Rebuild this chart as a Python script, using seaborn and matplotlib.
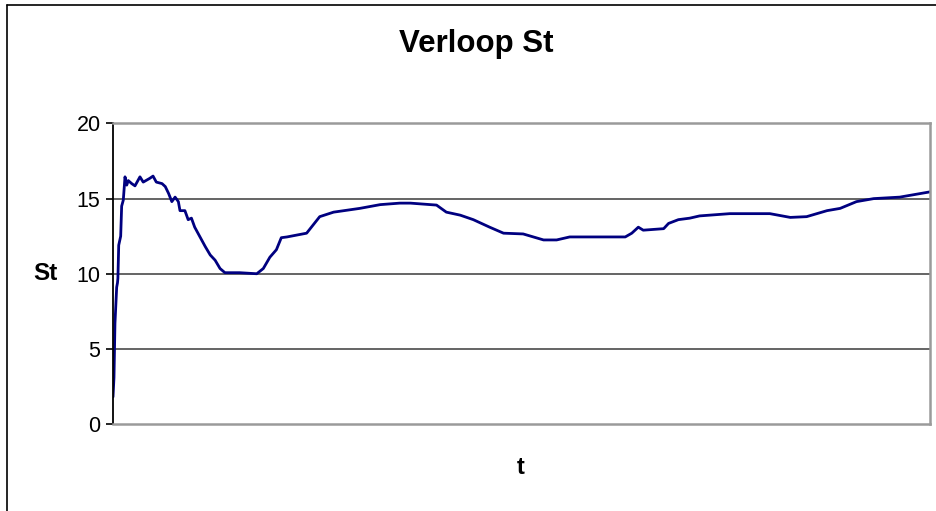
import matplotlib
matplotlib.use("Agg")
import matplotlib.pyplot as plt
from matplotlib.lines import Line2D
import seaborn as sns
import pandas as pd

# time index (arbitrary steps, axis has no tick labels)
t = [0, 1.2, 2.4, 4.5, 5.5, 6, 7, 9.4, 10.6, 12.6, 14.7, 16.8, 18.7, 22.9, 26.9,
     33, 37, 45, 49, 53, 60, 64, 68, 72, 76, 80, 82, 88, 92, 96, 100, 106, 113,
     119, 125, 131, 137, 155, 176, 184, 192, 200, 206, 213, 237, 253, 270, 302,
     327, 351, 364, 396, 408, 425, 441, 461, 478, 502, 527, 543, 559, 627, 635,
     643, 649, 674, 680, 692, 706, 718, 755, 804, 829, 849, 874, 890, 910, 931,
     963, 1000]
st = [1.8, 3.1, 6.7, 9.1, 9.4, 9.7, 11.9, 12.5, 14.5, 14.9, 16.45, 15.9, 16.2,
      16.0, 15.85, 16.45, 16.1, 16.35, 16.5, 16.1, 16.0, 15.8, 15.35, 14.8, 15.1,
      14.8, 14.2, 14.2, 13.6, 13.7, 13.1, 12.5, 11.8, 11.25, 10.9, 10.35, 10.07,
      10.07, 10.0, 10.35, 11.1, 11.6, 12.4, 12.45, 12.7, 13.8, 14.1, 14.35, 14.6,
      14.7, 14.7, 14.57, 14.1, 13.9, 13.6, 13.1, 12.7, 12.65, 12.25, 12.25, 12.45,
      12.45, 12.7, 13.1, 12.9, 13.0, 13.35, 13.6, 13.7, 13.85, 14.0, 14.0, 13.75,
      13.8, 14.2, 14.35, 14.8, 15.0, 15.1, 15.45]

y_ticks = [0, 5, 10, 15, 20]
title = "Verloop St"
xlabel = "t"
ylabel = "St"

sns.set_style("white")
plt.rcParams["font.family"] = ["Liberation Sans", "DejaVu Sans"]
plt.rcParams["text.color"] = "black"
plt.rcParams["ytick.color"] = "black"
plt.rcParams["ytick.labelcolor"] = "black"

W, H = 936, 511
fig = plt.figure(figsize=(W / 100, H / 100), dpi=100)
ax = fig.add_axes([113 / W, 1 - 424 / H, (930 - 113) / W, (424 - 123.5) / H])

df = pd.DataFrame({"t": t, "St": st})
sns.lineplot(data=df, x="t", y="St", ax=ax, color="#000080", linewidth=2.0)

ax.set_xlim(0, 1000)
ax.set_ylim(0, 20)
ax.set_xticks([])
ax.set_yticks(y_ticks)
ax.set_yticklabels([str(v) for v in y_ticks], fontsize=15.5, color="black")
ax.tick_params(axis="y", length=5, width=1.2, color="black", pad=4, direction="out", left=True)
ax.set_xlabel("")
ax.set_ylabel("")

for v in [5, 10, 15]:
    ax.axhline(v, color="#3a3a3a", linewidth=1.1, zorder=0)

ax.spines["left"].set_color("black")
ax.spines["left"].set_linewidth(1.3)
for s in ["top", "right", "bottom"]:
    ax.spines[s].set_color("#9a9a9a")
    ax.spines[s].set_linewidth(1.8)

fig.text(476.5 / W, 1 - 44 / H, title, ha="center", va="center", fontsize=22.5,
         fontweight="bold", color="black")
fig.text(521 / W, 1 - 467 / H, xlabel, ha="center", va="center", fontsize=17,
         fontweight="bold", color="black")
fig.text(45.5 / W, 1 - 273 / H, ylabel, ha="center", va="center", fontsize=17.5,
         fontweight="bold", color="black")

# outer chart border (left and top visible)
fig.add_artist(Line2D([7 / W, 7 / W], [0, 1 - 5 / H], transform=fig.transFigure, color="black", linewidth=1.2))
fig.add_artist(Line2D([7 / W, 1], [1 - 5 / H, 1 - 5 / H], transform=fig.transFigure, color="black", linewidth=1.2))

fig.savefig("out.png", dpi=100)
